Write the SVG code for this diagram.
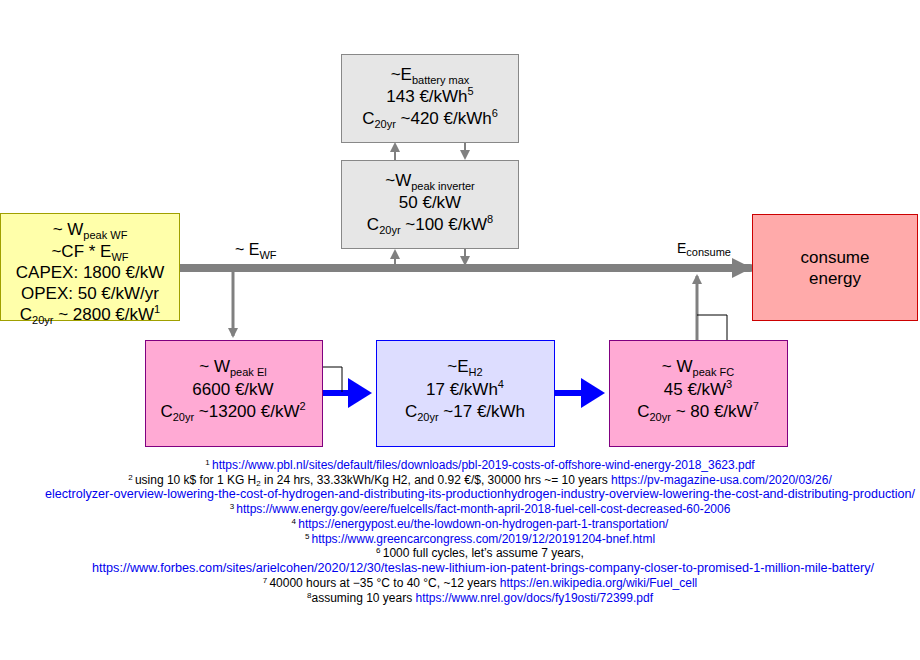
<svg xmlns="http://www.w3.org/2000/svg" width="920" height="660" viewBox="0 0 920 660">
<style>
text{font-family:"Liberation Sans",Arial,sans-serif;fill:#000}
.b{font-size:17px;text-anchor:middle}
.s{font-size:11px}
.f{font-size:12px;text-anchor:middle}
.u{fill:#0000ee}
.g{stroke:#808080;fill:none}
</style>
<defs>
<marker id="ga" markerWidth="20" markerHeight="20" refX="18" refY="10" orient="auto" markerUnits="userSpaceOnUse"><path d="M0,0L20,10L0,20z" fill="#808080"/></marker>
<marker id="gs" markerWidth="10" markerHeight="10" refX="8" refY="5" orient="auto" markerUnits="userSpaceOnUse"><path d="M0,0L10,5L0,10z" fill="#808080"/></marker>
<marker id="ba" markerWidth="4" markerHeight="5" refX="3" refY="2.5" orient="auto" markerUnits="strokeWidth"><path d="M0,0L4,2.5L0,5z" fill="#0000ff"/></marker>
</defs>
<rect width="920" height="660" fill="#fff"/>
<g id="connectors">
<line x1="180" y1="268" x2="750" y2="268" class="g" stroke-width="8" stroke-linecap="round" marker-end="url(#ga)"/>
<line x1="233" y1="268" x2="233" y2="336" class="g" stroke-width="3" marker-end="url(#gs)"/>
<line x1="697" y1="340" x2="697" y2="276" class="g" stroke-width="3" marker-end="url(#gs)"/>
<line x1="395" y1="264" x2="395" y2="251" class="g" stroke-width="2" marker-end="url(#gs)"/>
<line x1="465" y1="249" x2="465" y2="264" class="g" stroke-width="2" marker-end="url(#gs)"/>
<line x1="395" y1="160" x2="395" y2="144" class="g" stroke-width="2" marker-end="url(#gs)"/>
<line x1="465" y1="142" x2="465" y2="158" class="g" stroke-width="2" marker-end="url(#gs)"/>
<line x1="322" y1="393" x2="366" y2="393" stroke="#0000ff" stroke-width="6" marker-end="url(#ba)"/>
<line x1="555" y1="393" x2="599" y2="393" stroke="#0000ff" stroke-width="6" marker-end="url(#ba)"/>
<polyline points="262,367 342,367 342,392" fill="none" stroke="#000" stroke-width="1"/>
<polyline points="697,315 727,315 727,355" fill="none" stroke="#000" stroke-width="1"/>
</g>
<g id="wf">
<rect x="0.5" y="213.5" width="179" height="107" fill="#ffffaa" stroke="#a0a000"/>
<text class="b" x="90" y="235">~ W<tspan class="s" dy="4">peak WF</tspan></text>
<text class="b" x="90" y="257">~CF * E<tspan class="s" dy="4">WF</tspan></text>
<text class="b" x="90" y="278">CAPEX: 1800 €/kW</text>
<text class="b" x="90" y="299">OPEX: 50 €/kW/yr</text>
<text class="b" x="90" y="320">C<tspan class="s" dy="4">20yr</tspan><tspan dy="-4"> ~ 2800 €/kW</tspan><tspan class="s" dy="-7">1</tspan></text>
</g>
<g id="battery">
<rect x="341.5" y="54.5" width="177" height="88" fill="#e6e6e6" stroke="#888"/>
<text class="b" x="430" y="80">~E<tspan class="s" dy="4">battery max</tspan></text>
<text class="b" x="430" y="102">143 €/kWh<tspan class="s" dy="-7">5</tspan></text>
<text class="b" x="430" y="124">C<tspan class="s" dy="4">20yr</tspan><tspan dy="-4"> ~420 €/kWh</tspan><tspan class="s" dy="-7">6</tspan></text>
</g>
<g id="inverter">
<rect x="341.5" y="160.5" width="177" height="88" fill="#e6e6e6" stroke="#888"/>
<text class="b" x="430" y="186">~W<tspan class="s" dy="4">peak inverter</tspan></text>
<text class="b" x="430" y="208">50 €/kW</text>
<text class="b" x="430" y="230">C<tspan class="s" dy="4">20yr</tspan><tspan dy="-4"> ~100 €/kW</tspan><tspan class="s" dy="-7">8</tspan></text>
</g>
<g id="labels">
<text x="235" y="255" style="font-size:16px">~ E<tspan class="s" dy="4">WF</tspan></text>
<text x="677" y="253" style="font-size:14px">E<tspan class="s" dy="3">consume</tspan></text>
</g>
<g id="consume">
<rect x="752.5" y="214.5" width="165" height="106" fill="#ffaaaa" stroke="#cc0000"/>
<text class="b" x="835" y="263">consume</text>
<text class="b" x="835" y="284">energy</text>
</g>
<g id="el">
<rect x="145.5" y="340.5" width="177" height="106" fill="#ffaad4" stroke="#800080"/>
<text class="b" x="233" y="372">~ W<tspan class="s" dy="4">peak El</tspan></text>
<text class="b" x="233" y="395">6600 €/kW</text>
<text class="b" x="233" y="417">C<tspan class="s" dy="4">20yr</tspan><tspan dy="-4"> ~13200 €/kW</tspan><tspan class="s" dy="-7">2</tspan></text>
</g>
<g id="h2">
<rect x="376.5" y="340.5" width="178" height="106" fill="#ddddff" stroke="#0000ff"/>
<text class="b" x="465" y="372">~E<tspan class="s" dy="4">H2</tspan></text>
<text class="b" x="465" y="395">17 €/kWh<tspan class="s" dy="-7">4</tspan></text>
<text class="b" x="465" y="417">C<tspan class="s" dy="4">20yr</tspan><tspan dy="-4"> ~17 €/kWh</tspan></text>
</g>
<g id="fc">
<rect x="609.5" y="340.5" width="178" height="106" fill="#ffaad4" stroke="#800080"/>
<text class="b" x="698" y="372">~ W<tspan class="s" dy="4">peak FC</tspan></text>
<text class="b" x="698" y="395">45 €/kW<tspan class="s" dy="-7">3</tspan></text>
<text class="b" x="698" y="417">C<tspan class="s" dy="4">20yr</tspan><tspan dy="-4"> ~ 80 €/kW</tspan><tspan class="s" dy="-7">7</tspan></text>
</g>
<g id="footnotes">
<text class="f" x="480" y="469"><tspan font-size="8" dy="-4">1 </tspan><tspan class="u" dy="4">https://www.pbl.nl/sites/default/files/downloads/pbl-2019-costs-of-offshore-wind-energy-2018_3623.pdf</tspan></text>
<text class="f" x="480" y="484"><tspan font-size="8" dy="-4">2 </tspan><tspan dy="4">using 10 k$ for 1 KG H</tspan><tspan font-size="8" dy="2">2</tspan><tspan dy="-2"> in 24 hrs, 33.33kWh/Kg H2, and 0.92 €/$, 30000 hrs ~= 10 years  </tspan><tspan class="u">https://pv-magazine-usa.com/2020/03/26/</tspan></text>
<text class="f u" x="480" y="498" textLength="870" lengthAdjust="spacingAndGlyphs">electrolyzer-overview-lowering-the-cost-of-hydrogen-and-distributing-its-productionhydrogen-industry-overview-lowering-the-cost-and-distributing-production/</text>
<text class="f" x="480" y="513"><tspan font-size="8" dy="-4">3 </tspan><tspan class="u" dy="4">https://www.energy.gov/eere/fuelcells/fact-month-april-2018-fuel-cell-cost-decreased-60-2006</tspan></text>
<text class="f" x="480" y="528"><tspan font-size="8" dy="-4">4 </tspan><tspan class="u" dy="4">https://energypost.eu/the-lowdown-on-hydrogen-part-1-transportation/</tspan></text>
<text class="f" x="480" y="543"><tspan font-size="8" dy="-4">5 </tspan><tspan class="u" dy="4">https://www.greencarcongress.com/2019/12/20191204-bnef.html</tspan></text>
<text class="f" x="480" y="557"><tspan font-size="8" dy="-4">6 </tspan><tspan dy="4">1000 full cycles, let’s assume 7 years,</tspan></text>
<text class="f u" x="483" y="572" textLength="782" lengthAdjust="spacingAndGlyphs">https://www.forbes.com/sites/arielcohen/2020/12/30/teslas-new-lithium-ion-patent-brings-company-closer-to-promised-1-million-mile-battery/</text>
<text class="f" x="480" y="587"><tspan font-size="8" dy="-4">7 </tspan><tspan dy="4">40000 hours at −35 °C to 40 °C, ~12 years </tspan><tspan class="u">https://en.wikipedia.org/wiki/Fuel_cell</tspan></text>
<text class="f" x="480" y="602"><tspan font-size="8" dy="-4">8</tspan><tspan dy="4">assuming 10 years </tspan><tspan class="u">https://www.nrel.gov/docs/fy19osti/72399.pdf</tspan></text>
</g>
</svg>
